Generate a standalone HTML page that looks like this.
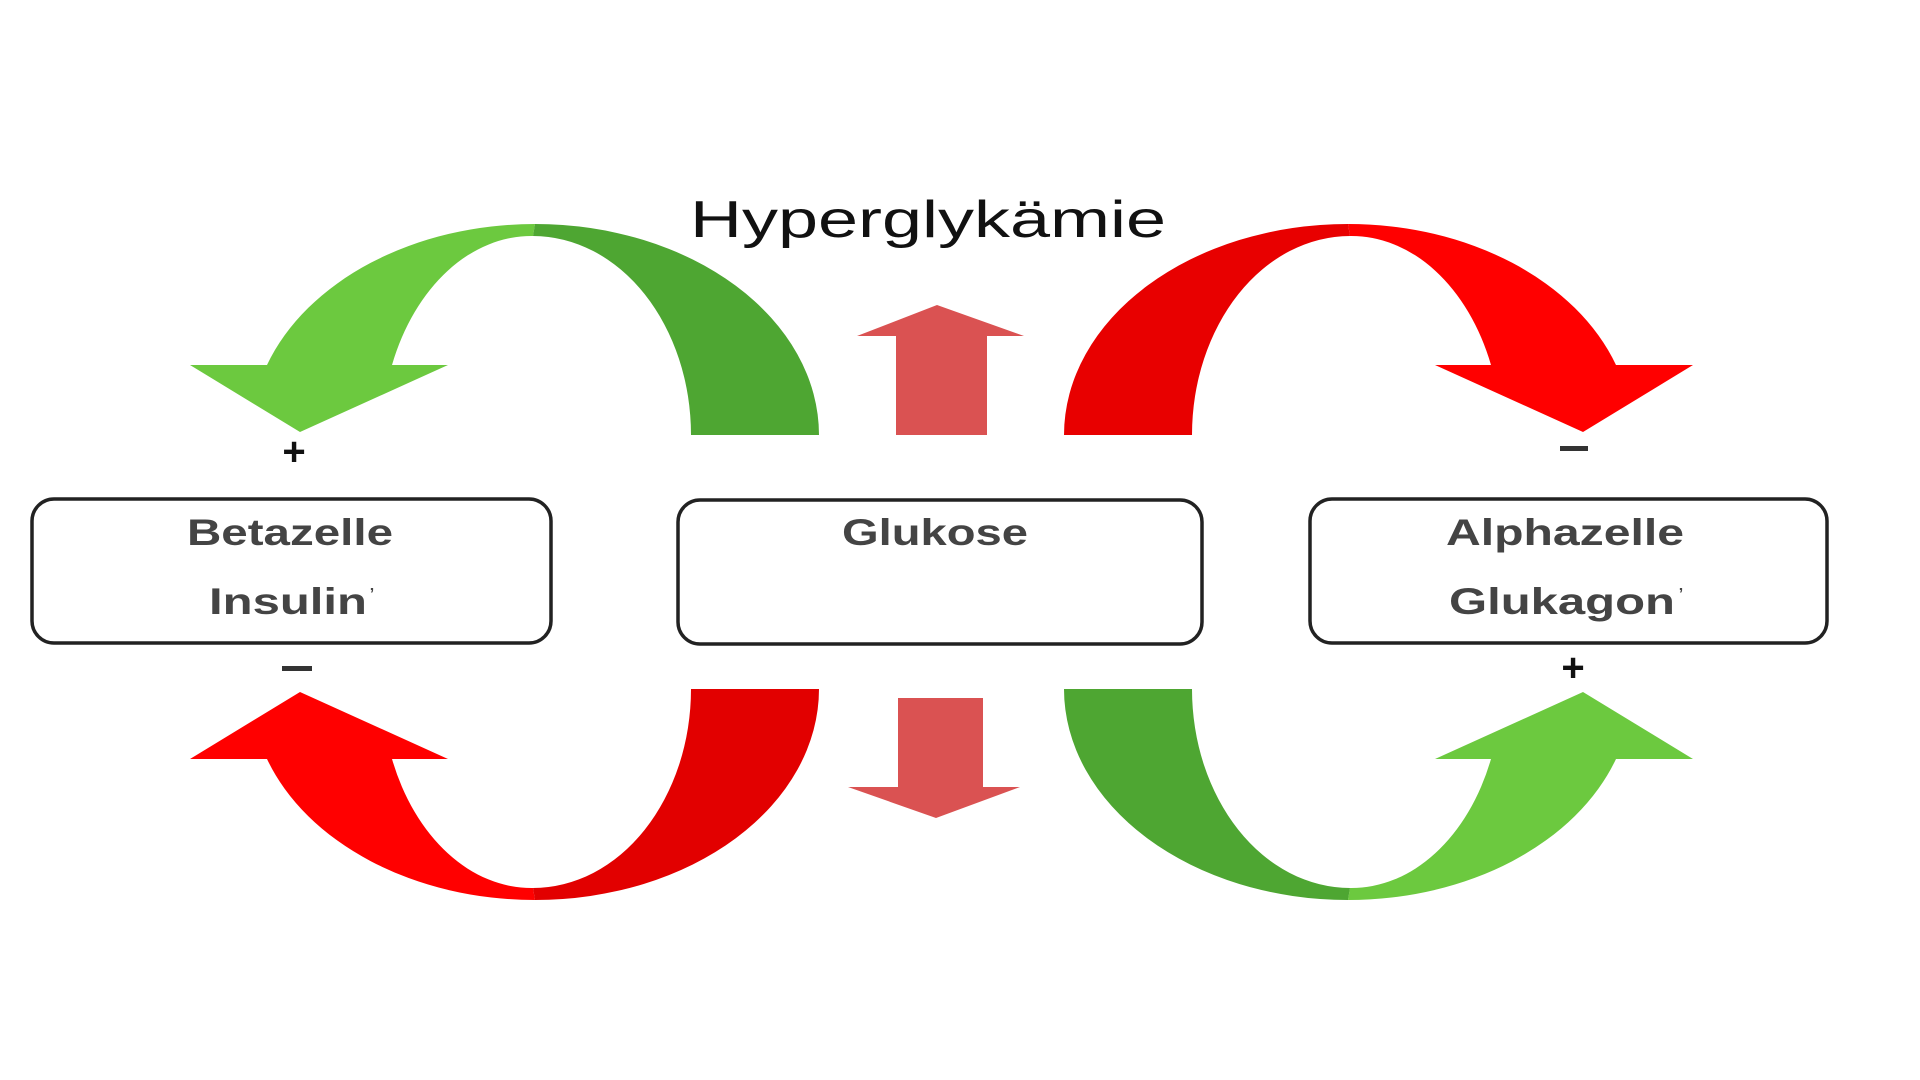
<!DOCTYPE html>
<html><head><meta charset="utf-8"><style>html,body{margin:0;padding:0;background:#fff}svg{display:block}</style></head>
<body>
<svg width="1920" height="1080" viewBox="0 0 1920 1080" xmlns="http://www.w3.org/2000/svg">
<rect width="1920" height="1080" fill="#fff"/>
<!-- top-left green -->
<path d="M535,224 A284,211 0 0 0 267,365 L190,365 L300,432 L448,365 L392,365 A150,204 0 0 1 533,236 Z" fill="#6cc93f"/>
<path d="M535,224 A284,211 0 0 1 819,435 L691,435 A158,199 0 0 0 533,236 Z" fill="#4ea632"/>
<!-- bottom-left red -->
<g transform="translate(0,1124) scale(1,-1)">
<path d="M535,224 A284,211 0 0 0 267,365 L190,365 L300,432 L448,365 L392,365 A150,204 0 0 1 533,236 Z" fill="#ff0000"/>
<path d="M535,224 A284,211 0 0 1 819,435 L691,435 A158,199 0 0 0 533,236 Z" fill="#e20000"/>
</g>
<!-- top-right red -->
<g transform="translate(1883,0) scale(-1,1)">
<path d="M535,224 A284,211 0 0 0 267,365 L190,365 L300,432 L448,365 L392,365 A150,204 0 0 1 533,236 Z" fill="#ff0000"/>
<path d="M535,224 A284,211 0 0 1 819,435 L691,435 A158,199 0 0 0 533,236 Z" fill="#e80000"/>
</g>
<!-- bottom-right green -->
<g transform="translate(1883,1124) scale(-1,-1)">
<path d="M535,224 A284,211 0 0 0 267,365 L190,365 L300,432 L448,365 L392,365 A150,204 0 0 1 533,236 Z" fill="#6cc93f"/>
<path d="M535,224 A284,211 0 0 1 819,435 L691,435 A158,199 0 0 0 533,236 Z" fill="#4ea632"/>
</g>
<!-- center arrows -->
<path d="M896,435 L896,336 L857,336 L937,305 L1024,336 L987,336 L987,435 Z" fill="#da5252"/>
<path d="M898,698 L983,698 L983,787 L1020,787 L936,818 L848,787 L898,787 Z" fill="#da5252"/>
<!-- title -->
<text x="928" y="237" text-anchor="middle" font-family="Liberation Sans, sans-serif" font-size="52" fill="#111" textLength="476" lengthAdjust="spacingAndGlyphs">Hyperglykämie</text>
<!-- boxes -->
<g fill="#fff" stroke="#222" stroke-width="3.5">
<rect x="32" y="499" width="519" height="144" rx="22"/>
<rect x="678" y="500" width="524" height="144" rx="22"/>
<rect x="1310" y="499" width="517" height="144" rx="22"/>
</g>
<g font-family="Liberation Sans, sans-serif" font-size="37" font-weight="bold" fill="#444" text-anchor="middle">
<text x="290" y="545" textLength="206" lengthAdjust="spacingAndGlyphs">Betazelle</text>
<text x="288" y="614" textLength="158" lengthAdjust="spacingAndGlyphs">Insulin</text>
<text x="372" y="599" font-size="16">ʼ</text>
<text x="935" y="545" textLength="186" lengthAdjust="spacingAndGlyphs">Glukose</text>
<text x="1565" y="545" textLength="238" lengthAdjust="spacingAndGlyphs">Alphazelle</text>
<text x="1562" y="614" textLength="226" lengthAdjust="spacingAndGlyphs">Glukagon</text>
<text x="1681" y="599" font-size="16">ʼ</text>
</g>
<g font-family="Liberation Sans, sans-serif" font-size="40" font-weight="bold" fill="#111" text-anchor="middle">
<text x="294" y="465">+</text>
<text x="1573" y="681">+</text>
</g>
<rect x="282" y="666" width="30" height="5" fill="#333"/>
<rect x="1560" y="446" width="28" height="5" fill="#333"/>
</svg>
</body></html>
